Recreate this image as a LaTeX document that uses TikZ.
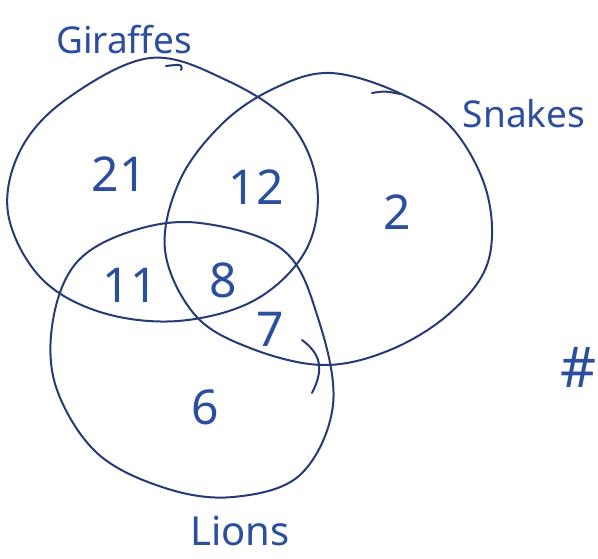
\documentclass[tikz,border=0pt]{standalone}
\usepackage{fontspec}
\setmainfont{Noto Sans}
\definecolor{ink}{RGB}{38,58,118}
\definecolor{penblue}{RGB}{44,78,158}
\begin{document}
\begin{tikzpicture}[x=1pt,y=-1pt,
  loop/.style={draw=ink,line width=2pt,line cap=round,line join=round},
  count/.style={text=penblue,font=\fontsize{48}{52}\selectfont,inner sep=0pt},
  setname/.style={text=penblue,font=\fontsize{37}{40}\selectfont,inner sep=0pt}]
\clip (0,0) rectangle (598,559);
\fill[white] (0,0) rectangle (598,559);
% Giraffes
\draw[loop] plot[smooth cycle,tension=0.6] coordinates {
  (150,58) (226,80) (290,123) (317,185) (306,250) (255,300) (178,321)
  (100,312) (40,277) (8,213) (21,149) (68,98)};
\draw[loop] (166,66) .. controls (176,65) and (184,63) .. (181,70);
% Snakes
\draw[loop] plot[smooth cycle,tension=0.6] coordinates {
  (330,73) (397,92) (452,128) (487,193) (488,262) (450,313) (390,350)
  (323,365) (250,348) (195,315) (165,250) (180,180) (223,123) (275,88)};
\draw[loop] (372,93) .. controls (385,91) .. (400,94);
% Lions
\draw[loop] plot[smooth cycle,tension=0.6] coordinates {
  (200,223) (283,250) (318,318) (333,405) (300,475) (233,497) (165,488)
  (97,453) (56,387) (53,320) (77,262) (132,231)};
\draw[loop] (302,340) .. controls (318,352) and (326,366) .. (312,393);
% region counts
\node[count] (g)   at (119,174) {21};
\node[count] (gs)  at (256,187) {12};
\node[count] (s)   at (397,212) {2};
\node[count] (gl)  at (130,285) {11};
\node[count] (gsl) at (223,280) {8};
\node[count] (sl)  at (270,329) {7};
\node[count] (l)   at (205,407) {6};
% set names
\node[setname] (gname) at (124,40)  {Giraffes};
\node[setname] (sname) at (524,114) {Snakes};
\node[setname,font=\fontsize{40}{44}\selectfont] (lname) at (240,531) {Lions};
\node[setname,anchor=east,font=\fontsize{56}{60}\selectfont] (mark) at (597,368) {\#};
\end{tikzpicture}
\end{document}
